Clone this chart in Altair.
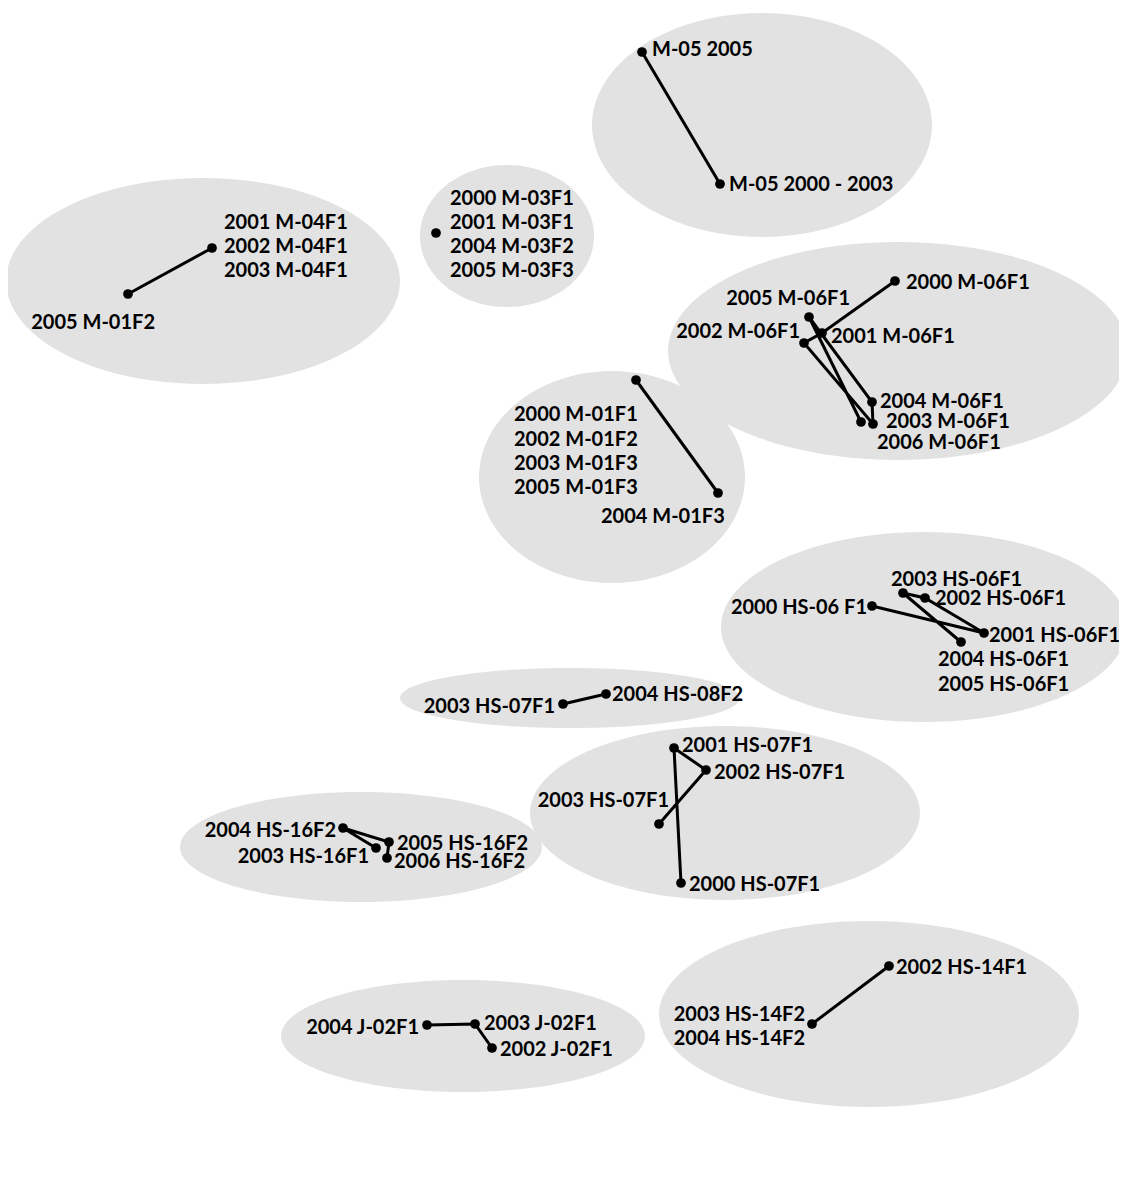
import math
import altair as alt
import pandas as pd

# ---- ellipses (cluster hulls) : centre and radii in chart units ----
ell_cx = [203, 507, 762, 898, 612, 924, 570, 725, 361, 463, 869]
ell_cy = [281, 236, 125, 351, 477, 627, 698, 813, 847, 1036, 1014]
ell_rx = [197, 87, 170, 230, 133, 203, 170, 195, 181, 182, 210]
ell_ry = [103, 71, 112, 109, 106, 95, 30, 87, 55, 56, 93]

# ---- trajectory points ----
pt_group = ["M04", "M04",
            "M03",
            "M05", "M05",
            "M06", "M06", "M06", "M06", "M06", "M06", "M06",
            "M01", "M01",
            "HS06", "HS06", "HS06", "HS06", "HS06",
            "HS0708", "HS0708",
            "HS07", "HS07", "HS07", "HS07",
            "HS16", "HS16", "HS16", "HS16",
            "J02", "J02", "J02",
            "HS14", "HS14"]
pt_order = [1, 2,
            1,
            1, 2,
            2000, 2001, 2002, 2003, 2004, 2005, 2006,
            1, 2,
            2000, 2001, 2002, 2003, 2004,
            1, 2,
            2000, 2001, 2002, 2003,
            2003, 2004, 2005, 2006,
            2002, 2003, 2004,
            2002, 2003]
pt_x = [212, 128,
        436,
        642, 720,
        895, 822, 804, 873, 872, 809, 861,
        636, 718,
        872, 984, 925, 903, 961,
        563, 606,
        681, 674, 706, 659,
        376, 343, 389, 387,
        492, 475, 427,
        889, 812]
pt_y = [248, 294,
        233,
        52, 184,
        281, 333, 343, 424, 402, 317, 422,
        380, 493,
        606, 633, 598, 593, 642,
        704, 694,
        883, 748, 770, 824,
        848, 828, 842, 858,
        1048, 1024, 1025,
        966, 1024]

# ---- labels placed to the right of an anchor (left-aligned) ----
lab_l_text = ["2001 M-04F1", "2002 M-04F1", "2003 M-04F1",
              "2000 M-03F1", "2001 M-03F1", "2004 M-03F2", "2005 M-03F3",
              "M-05 2005", "M-05 2000 - 2003",
              "2000 M-06F1", "2001 M-06F1", "2004 M-06F1", "2003 M-06F1", "2006 M-06F1",
              "2000 M-01F1", "2002 M-01F2", "2003 M-01F3", "2005 M-01F3", "2004 M-01F3",
              "2003 HS-06F1", "2002 HS-06F1", "2001 HS-06F1", "2004 HS-06F1", "2005 HS-06F1",
              "2004 HS-08F2",
              "2001 HS-07F1", "2002 HS-07F1", "2000 HS-07F1",
              "2005 HS-16F2", "2006 HS-16F2",
              "2003 J-02F1", "2002 J-02F1",
              "2002 HS-14F1"]
lab_l_x = [224, 224, 224,
           450, 450, 450, 450,
           652, 729,
           906, 831, 880, 886, 877,
           514, 514, 514, 514, 601,
           891, 935, 989, 938, 938,
           612,
           682, 714, 689,
           397, 394,
           484, 500,
           896]
lab_l_y = [221, 245, 269,
           197, 221, 245, 269,
           48, 183,
           281, 335, 400, 420, 441,
           413, 438, 462, 486, 515,
           578, 597, 634, 658, 683,
           693,
           744, 771, 883,
           842, 860,
           1022, 1048,
           966]

# ---- labels placed to the left of an anchor (right-aligned) ----
lab_r_text = ["2005 M-01F2",
              "2005 M-06F1", "2002 M-06F1",
              "2000 HS-06 F1",
              "2003 HS-07F1",
              "2003 HS-07F1",
              "2004 HS-16F2", "2003 HS-16F1",
              "2004 J-02F1",
              "2003 HS-14F2", "2004 HS-14F2"]
lab_r_x = [155,
           850, 800,
           867,
           555,
           669,
           336, 369,
           419,
           805, 805]
lab_r_y = [321,
           297, 330,
           606,
           705,
           799,
           829, 855,
           1026,
           1013, 1037]


def ellipse_path(rx, ry, n=96):
    pts = []
    for i in range(n):
        t = 2 * math.pi * i / n
        pts.append(f"{rx * math.cos(t):.2f} {ry * math.sin(t):.2f}")
    return "M " + " L ".join(pts) + " Z"


ell_df = pd.DataFrame({
    "cx": ell_cx, "cy": ell_cy,
    "shape": [ellipse_path(a, b) for a, b in zip(ell_rx, ell_ry)],
})
pt_df = pd.DataFrame({"group": pt_group, "order": pt_order, "x": pt_x, "y": pt_y})
lab_l_df = pd.DataFrame({"text": lab_l_text, "x": lab_l_x, "y": lab_l_y})
lab_r_df = pd.DataFrame({"text": lab_r_text, "x": lab_r_x, "y": lab_r_y})

W, H = 1111, 1180
xs = alt.Scale(domain=[8, 8 + W], nice=False, zero=False)
ys = alt.Scale(domain=[8 + H, 8], nice=False, zero=False)
X = lambda f: alt.X(f, type="quantitative", scale=xs, axis=None)
Y = lambda f: alt.Y(f, type="quantitative", scale=ys, axis=None)

ellipses = alt.Chart(ell_df).mark_point(
    filled=True, opacity=1, color="#e2e2e2", strokeWidth=0
).encode(
    x=X("cx"), y=Y("cy"),
    shape=alt.Shape("shape:N", scale=None, legend=None),
    size=alt.value(4),
)

lines = alt.Chart(pt_df).mark_line(color="black", strokeWidth=3).encode(
    x=X("x"), y=Y("y"), detail="group:N", order="order:Q"
)

dots = alt.Chart(pt_df).mark_circle(color="black", opacity=1, size=95).encode(
    x=X("x"), y=Y("y")
)

font = dict(font="Lato", fontWeight="bold", fontSize=20, color="black",
            baseline="middle", dy=2)
text_l = alt.Chart(lab_l_df).mark_text(align="left", **font).encode(
    x=X("x"), y=Y("y"), text="text:N"
)
text_r = alt.Chart(lab_r_df).mark_text(align="right", **font).encode(
    x=X("x"), y=Y("y"), text="text:N"
)

chart = alt.layer(ellipses, lines, dots, text_l, text_r).properties(
    width=W, height=H, padding=0,
    autosize=alt.AutoSizeParams(type="none"),
).configure_view(stroke=None)

chart.save("out.html", embed_options={"renderer": "svg", "actions": False})
